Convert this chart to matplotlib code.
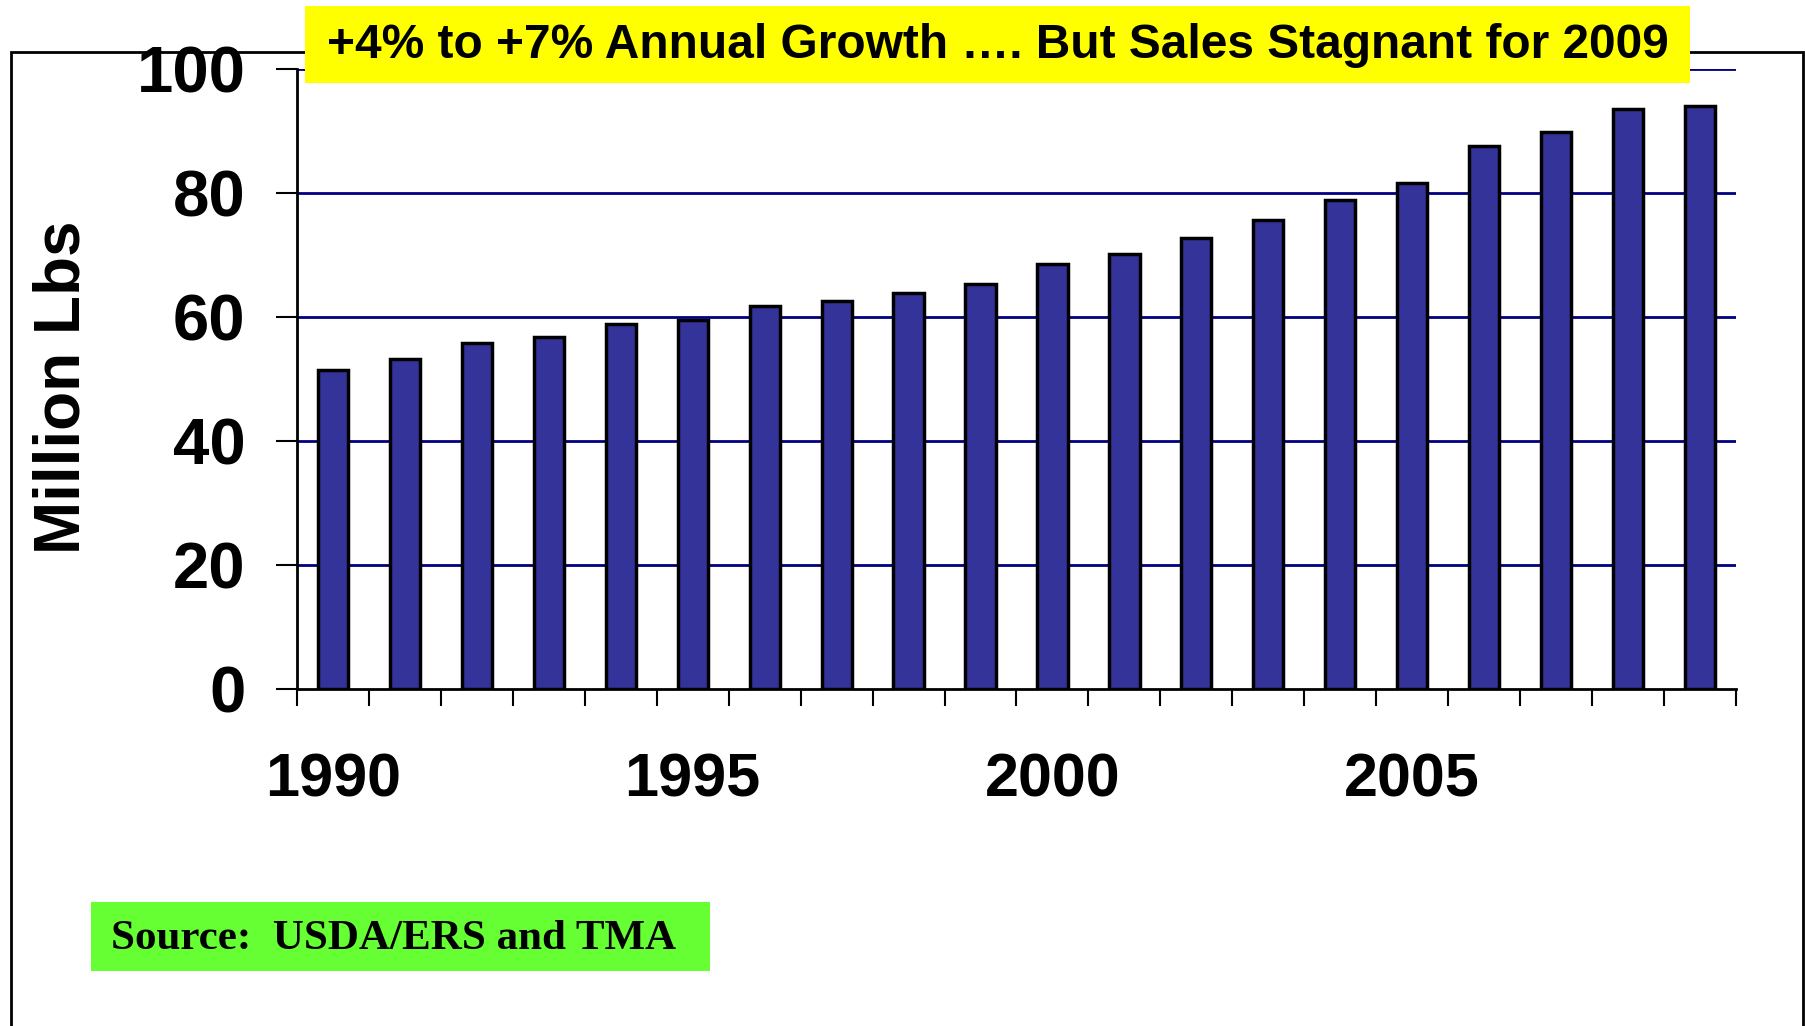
import matplotlib.pyplot as plt
from matplotlib.patches import Rectangle
import numpy as np

# data
years = list(range(1990, 2010))
million_lbs = [51.5, 53.3, 55.8, 56.7, 58.9, 59.5, 61.7, 62.6, 63.9, 65.4,
               68.6, 70.1, 72.7, 75.6, 78.8, 81.6, 87.6, 89.9, 93.6, 94.1]
label_years = [1990, 1995, 2000, 2005]
y_ticks = [0, 20, 40, 60, 80, 100]

title_text = "+4% to +7% Annual Growth \u2026. But Sales Stagnant for 2009"
source_text = "Source:  USDA/ERS and TMA"

W, H = 1806, 1026
fig = plt.figure(figsize=(W / 100, H / 100), dpi=100)

# outer frame (bottom runs off the image)
fig.add_artist(Rectangle((11 / W, -0.05), (1803 - 11) / W, 1.05 - 52 / H,
                         transform=fig.transFigure, fill=False,
                         edgecolor='black', linewidth=2))

ax = fig.add_axes([297 / W, 1 - 689 / H, (1736 - 297) / W, (689 - 69) / H])

x = np.arange(len(years))
ax.bar(x, million_lbs, width=0.42, color='#333399', edgecolor='black',
       linewidth=2.5, zorder=3)

ax.set_xlim(-0.5, len(years) - 0.5)
ax.set_ylim(0, 100)

for v in y_ticks[1:]:
    ax.axhline(v, color='#000080', linewidth=2, zorder=1)

ax.spines['top'].set_visible(False)
ax.spines['right'].set_visible(False)
ax.spines['left'].set_linewidth(2)
ax.spines['bottom'].set_linewidth(2)

ax.set_yticks(y_ticks)
ax.set_yticklabels([str(v) for v in y_ticks], fontfamily='Liberation Sans',
                   fontweight='bold', fontsize=47)
ax.tick_params(axis='y', length=15, width=1.5, pad=22)

# year labels under bars, tick marks on category boundaries
ax.set_xticks([years.index(y) for y in label_years])
ax.set_xticklabels([str(y) for y in label_years], fontfamily='Liberation Sans',
                   fontweight='bold', fontsize=44)
ax.tick_params(axis='x', which='major', length=0, pad=46)
ax.set_xticks(np.arange(-0.5, len(years), 1), minor=True)
ax.tick_params(axis='x', which='minor', length=12, width=1.5)

fig.text(63 / W, 1 - 387 / H, "Million Lbs", rotation=90, ha='center',
         va='center', fontfamily='Liberation Sans', fontweight='bold',
         fontsize=46)

# yellow title box
fig.add_artist(Rectangle((305 / W, 1 - 83 / H), (1690 - 305) / W, 77 / H,
                         transform=fig.transFigure, facecolor='#FFFF00',
                         edgecolor='none', zorder=5))
fig.text(998 / W, 1 - 45 / H, title_text, ha='center', va='center',
         fontfamily='Liberation Sans', fontweight='bold', fontsize=34.5, zorder=6)

# green source box
fig.add_artist(Rectangle((91 / W, 1 - 971 / H), (710 - 91) / W, 69 / H,
                         transform=fig.transFigure, facecolor='#66FF33',
                         edgecolor='none', zorder=5))
fig.text(111 / W, 1 - 939 / H, source_text, ha='left', va='center',
         fontfamily='Liberation Serif', fontweight='bold', fontsize=31, zorder=6)

plt.savefig("out.png", dpi=100)
